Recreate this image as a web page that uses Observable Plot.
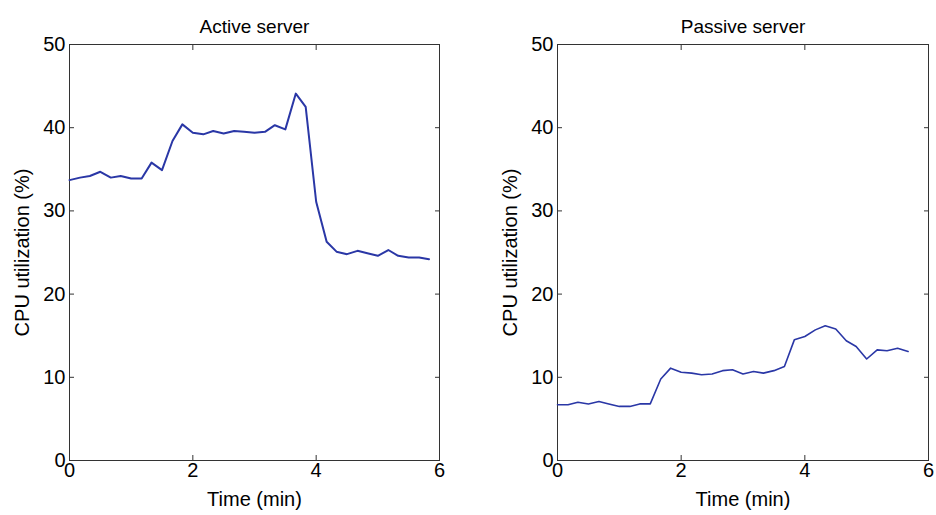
<!DOCTYPE html>
<html>
<head>
<meta charset="utf-8">
<script src="https://cdn.jsdelivr.net/npm/d3@7"></script>
<script src="https://cdn.jsdelivr.net/npm/@observablehq/plot@0.6"></script>
<style>
  html, body { margin: 0; padding: 0; background: #fff; }
  #chart { display: flex; width: 936px; height: 515px; }
</style>
</head>
<body>
<div id="chart"></div>
<script>
// Sample times (minutes), ~10 s apart
const timeMin = [0, 0.17, 0.33, 0.5, 0.67, 0.83, 1, 1.17, 1.33, 1.5, 1.67, 1.83,
  2, 2.17, 2.33, 2.5, 2.67, 2.83, 3, 3.17, 3.33, 3.5, 3.67, 3.83,
  4, 4.17, 4.33, 4.5, 4.67, 4.83, 5, 5.17, 5.33, 5.5, 5.67, 5.83];

// CPU utilization (%) of the active server
const activeCpu = [33.7, 34.0, 34.2, 34.7, 34.0, 34.2, 33.9, 33.9, 35.8, 34.9, 38.4, 40.4,
  39.4, 39.2, 39.6, 39.3, 39.6, 39.5, 39.4, 39.5, 40.3, 39.8, 44.1, 42.5,
  31.1, 26.3, 25.1, 24.8, 25.2, 24.9, 24.6, 25.3, 24.6, 24.4, 24.4, 24.2];

// CPU utilization (%) of the passive server
const passiveCpu = [6.7, 6.7, 7.0, 6.8, 7.1, 6.8, 6.5, 6.5, 6.8, 6.8, 9.8, 11.1,
  10.6, 10.5, 10.3, 10.4, 10.8, 10.9, 10.4, 10.7, 10.5, 10.8, 11.3, 14.5,
  14.9, 15.7, 16.2, 15.8, 14.4, 13.7, 12.2, 13.3, 13.2, 13.5, 13.1];

const panelTitles = ["Active server", "Passive server"];
const xTicks = [0, 2, 4, 6];
const yTicks = [0, 10, 20, 30, 40, 50];
const xLabel = "Time (min)";
const yLabel = "CPU utilization (%)";

const lineColor = "#2a37a6";
const axisColor = "#333";
const font = "Arial, 'Liberation Sans', Helvetica, sans-serif";

function panel(title, values, marginLeft, marginRight, strokeWidth) {
  const data = values.map((v, i) => ({t: timeMin[i], v}));
  return Plot.plot({
    width: 468,
    height: 515,
    marginTop: 44,
    marginBottom: 55,
    marginLeft,
    marginRight,
    style: {fontFamily: font, fontSize: "20px", color: "#000", background: "#fff", overflow: "visible"},
    x: {domain: [0, 6]},
    y: {domain: [0, 50]},
    marks: [
      Plot.frame({stroke: axisColor, strokeWidth: 1}),
      // inward ticks on all four sides
      Plot.axisX(xTicks, {anchor: "bottom", tickSize: -5, tickFormat: () => "", label: null, stroke: axisColor}),
      Plot.axisX(xTicks, {anchor: "top", tickSize: -5, tickFormat: () => "", label: null, stroke: axisColor}),
      Plot.axisY(yTicks, {anchor: "left", tickSize: -5, tickFormat: () => "", label: null, stroke: axisColor}),
      Plot.axisY(yTicks, {anchor: "right", tickSize: -5, tickFormat: () => "", label: null, stroke: axisColor}),
      // tick labels + axis titles
      Plot.axisX(xTicks, {anchor: "bottom", tickSize: 0, tickPadding: 2, fontSize: 20, fill: "#000",
        label: xLabel, labelAnchor: "center", labelArrow: false, labelOffset: 45}),
      Plot.axisY(yTicks, {anchor: "left", tickSize: 0, tickPadding: 4, fontSize: 20, fill: "#000",
        label: yLabel, labelAnchor: "center", labelArrow: false, labelOffset: 55}),
      Plot.line(data, {x: "t", y: "v", stroke: lineColor, strokeWidth, strokeLinejoin: "round"}),
      Plot.text([title], {frameAnchor: "top", dy: -25, fontSize: 19, fill: "#000"})
    ]
  });
}

const root = document.getElementById("chart");
root.append(panel(panelTitles[0], activeCpu, 69, 29, 2));
root.append(panel(panelTitles[1], passiveCpu, 89, 8, 1.6));
</script>
</body>
</html>
